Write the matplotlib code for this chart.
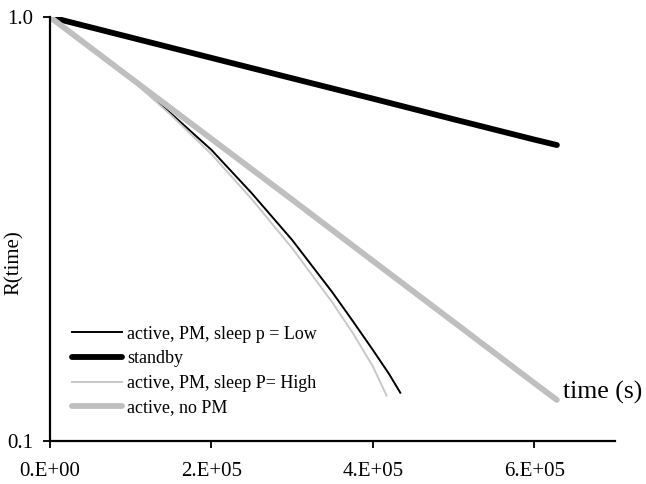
import numpy as np
import matplotlib.pyplot as plt

plt.rcParams['font.family'] = ['Liberation Serif', 'DejaVu Serif']

# time (s) and reliability values
t_standby = [0, 1e5, 2e5, 3e5, 4e5, 5e5, 6e5, 6.28e5]
r_standby = [1.0, 0.895, 0.801, 0.717, 0.642, 0.574, 0.514, 0.499]

t_nopm = [0, 1e5, 2e5, 3e5, 4e5, 5e5, 6e5, 6.28e5]
r_nopm = [1.0, 0.718, 0.516, 0.371, 0.266, 0.191, 0.137, 0.125]

t_low = [0, 1e5, 1.5e5, 2e5, 2.5e5, 3e5, 3.5e5, 3.75e5, 4e5, 4.2e5, 4.34e5]
r_low = [1.0, 0.716, 0.592, 0.486, 0.384, 0.298, 0.224, 0.192, 0.164, 0.144, 0.130]

t_high = [0, 1e5, 1.5e5, 2e5, 2.5e5, 3e5, 3.5e5, 3.75e5, 4e5, 4.17e5]
r_high = [1.0, 0.714, 0.587, 0.475, 0.372, 0.285, 0.212, 0.180, 0.150, 0.128]

xticks = [0, 2e5, 4e5, 6e5]
xtick_labels = ['0.E+00', '2.E+05', '4.E+05', '6.E+05']

fig = plt.figure(figsize=(6.46, 4.84), dpi=100)
ax = fig.add_axes([0.0774, 0.0888, 0.8746, 0.876])

ax.plot(t_low, r_low, color='black', lw=1.4, label='active, PM, sleep p = Low')
ax.plot(t_standby, r_standby, color='black', lw=4.2, solid_capstyle='round',
        label='standby')
ax.plot(t_high, r_high, color='#c8c8c8', lw=1.4, label='active, PM, sleep P= High')
ax.plot(t_nopm, r_nopm, color='#bfbfbf', lw=4.2, solid_capstyle='round',
        label='active, no PM')

ax.set_yscale('log')
ax.set_ylim(0.1, 1.0)
ax.set_xlim(0, 7e5)
ax.set_yticks([0.1, 1.0])
ax.set_yticklabels(['0.1', '1.0'])
ax.yaxis.set_minor_locator(plt.NullLocator())
ax.set_xticks(xticks)
ax.set_xticklabels(xtick_labels)
ax.tick_params(axis='both', direction='out', length=5, width=1.3,
               labelsize=15)
ax.tick_params(axis='y', pad=7)
ax.tick_params(axis='x', pad=10)

for s in ['top', 'right']:
    ax.spines[s].set_visible(False)
for s in ['left', 'bottom']:
    ax.spines[s].set_linewidth(1.6)

ax.set_ylabel('R(time)', fontsize=15)
ax.yaxis.set_label_coords(-0.046, 0.42)

ax.text(6.35e5, 0.130, 'time (s)', fontsize=18.5, va='center', ha='left')

ax.legend(loc='upper left', bbox_to_anchor=(0.039, 0.272), frameon=False,
          fontsize=13, handlelength=2.77, handletextpad=0.28,
          labelspacing=0.42, borderpad=0, borderaxespad=0)

fig.savefig('out.png', dpi=100)
